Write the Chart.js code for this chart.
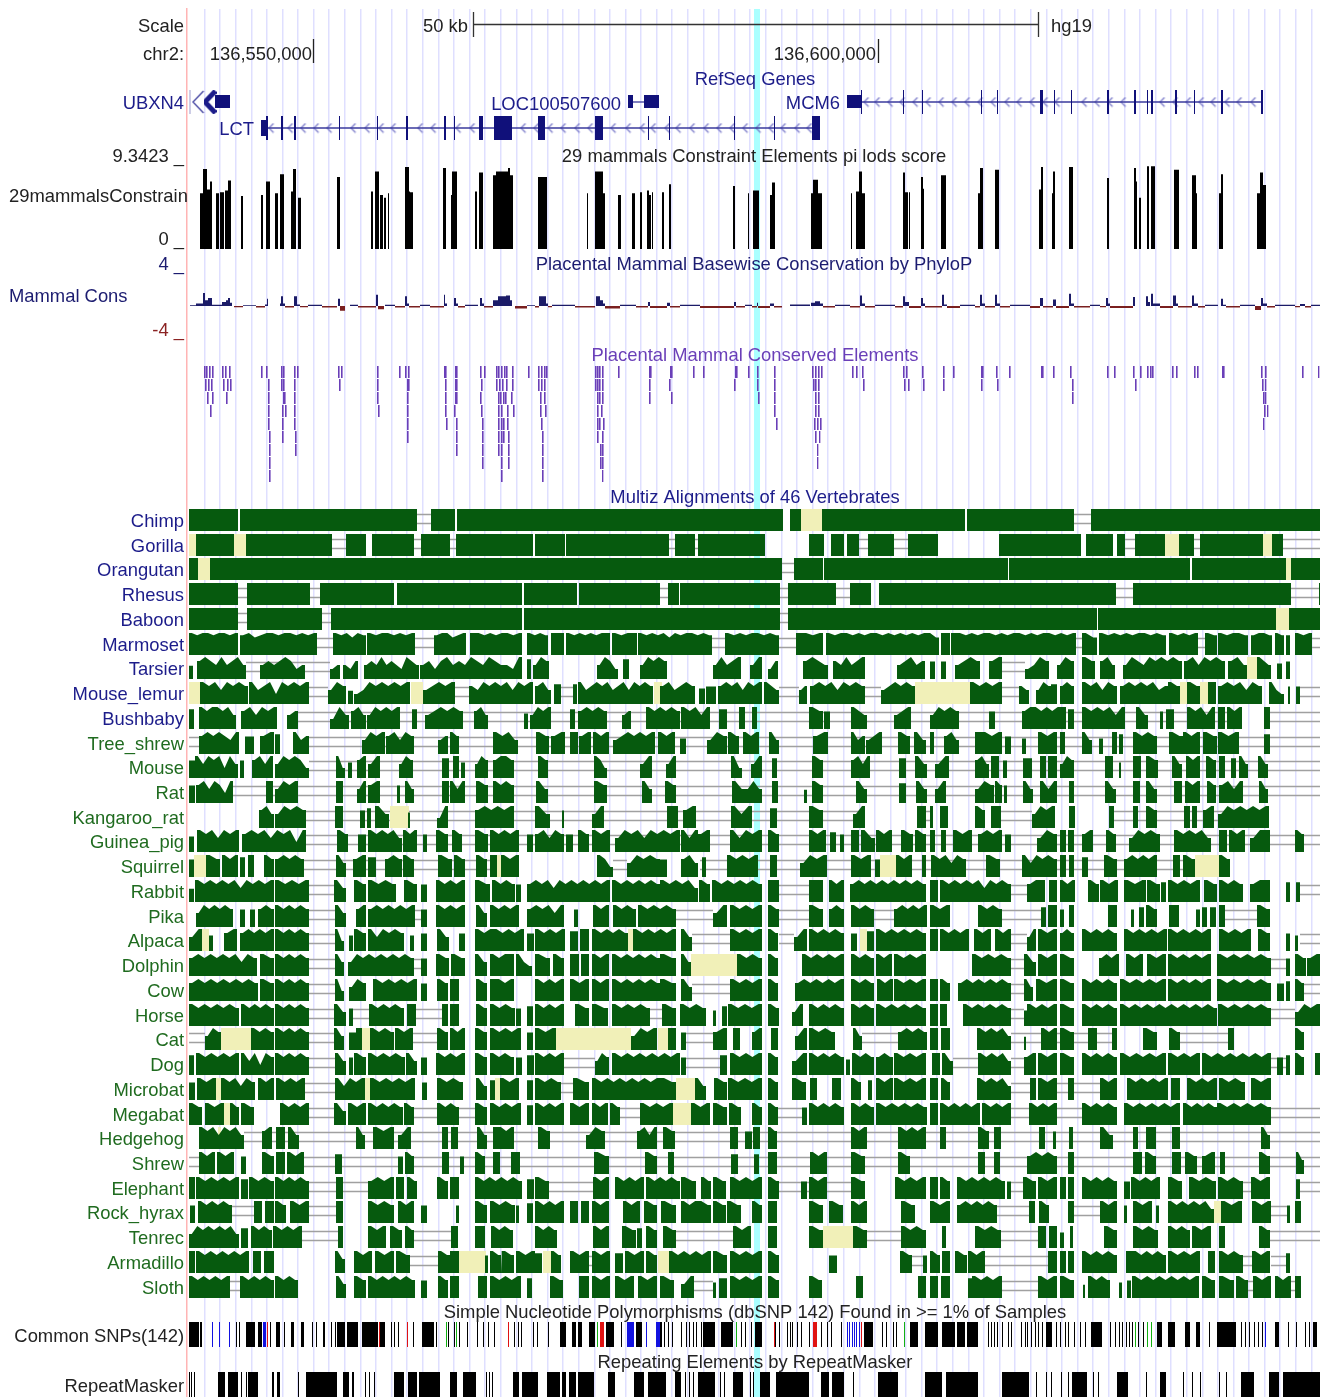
<!DOCTYPE html>
<html>
<head>
<meta charset="utf-8">
<style>html,body{margin:0;padding:0;background:#fff}canvas{display:block}</style>
<script src="https://cdn.jsdelivr.net/npm/chart.js@4/dist/chart.umd.js"></script>
</head>
<body>
<canvas id="browser" width="1330" height="1397"></canvas>
<script>
// x axis is in window bins (one bin is about 88 bp)
const constraintScores=[[200,203,6.2],[203,207,8.9],[207,210,6.6],[210,212,7.5],[216,219,6.2],[220,224,6.3],[225,228,6.5],[228,231,7.6],[241,243,5.9],[261,263,6],[266,270,7.5],[275,278,6.2],[280,284,8.3],[291,293,6.4],[293,296,8.9],[298,301,5.7],[337,340,8],[371,373,6.4],[375,379,8.6],[380,383,6],[384,386,5.7],[388,389,6.2],[405,409,9.1],[409,410,6.4],[410,413,6.3],[443,446,9],[451,452,6],[452,457,8.6],[475,477,6.4],[479,483,8.5],[493,496,8.2],[496,508,8.6],[508,510,9],[510,513,8.2],[538,547,8],[587,588,6.2],[595,603,8.6],[603,605,6.2],[618,621,6],[632,635,6.2],[640,642,6.3],[647,649,6.5],[649,651,6],[652,653,6.3],[662,664,6.3],[669,671,7.2],[733,735,7],[748,749,6.2],[753,759,6.5],[770,772,6],[772,775,7.4],[811,813,6.2],[813,818,7.7],[818,822,6.2],[851,852,6.2],[856,859,6.4],[859,862,8.6],[862,865,6.2],[903,905,8.5],[905,908,6.3],[909,910,6.3],[921,923,8],[923,924,6.7],[941,946,8.2],[978,980,6.2],[980,983,9],[995,999,8.8],[1039,1041,6.6],[1041,1043,9.1],[1052,1053,6.2],[1053,1055,8.6],[1069,1073,9.1],[1107,1109,7.9],[1134,1136,9],[1136,1137,7.5],[1139,1141,5.7],[1147,1149,9.2],[1151,1155,9.2],[1174,1179,8.8],[1192,1196,8.2],[1196,1197,6.2],[1219,1221,6.2],[1221,1223,8.3],[1257,1260,6.2],[1260,1263,8.5],[1263,1266,7.1]];

const phyloUp=[[190,196,.1],[196,203,.3],[203,205,1.6],[205,208,.7],[208,212,1],[212,222,.15],[222,226,.5],[226,228,.7],[228,230,1],[230,232,.4],[243,256,.1],[265,267,.2],[267,268,.9],[280,281,.3],[281,283,1.2],[283,285,.3],[294,297,1.2],[297,300,.2],[308,322,.15],[338,340,.9],[350,358,.15],[376,378,1.4],[385,395,.15],[405,407,1.2],[407,409,.3],[420,430,.15],[444,445,1.4],[445,447,.3],[454,456,1],[456,458,.3],[465,478,.15],[480,482,1],[482,484,.3],[493,498,.7],[498,506,1.2],[506,510,1.3],[510,512,.7],[527,535,.1],[539,546,1.2],[546,548,.3],[552,575,.15],[596,600,1.2],[600,603,.7],[603,605,.3],[620,636,.15],[648,650,.5],[667,670,.4],[680,700,.15],[734,736,.5],[745,752,.15],[757,758,.4],[770,774,.3],[790,810,.2],[811,815,.4],[815,820,.6],[820,823,.3],[835,850,.15],[860,862,1.3],[862,865,.3],[875,895,.15],[903,905,1.2],[905,909,.5],[921,923,1],[923,925,.3],[942,944,1.4],[944,947,.2],[960,975,.15],[980,982,1.4],[982,985,.3],[995,997,1.4],[997,1000,.3],[1010,1030,.15],[1040,1043,1],[1053,1056,.8],[1069,1071,1.5],[1071,1074,.3],[1090,1100,.15],[1106,1108,1],[1108,1110,.3],[1133,1135,1.1],[1146,1148,1.2],[1148,1150,.5],[1151,1153,1.5],[1153,1160,.3],[1173,1176,1.3],[1176,1178,.3],[1192,1194,1.3],[1194,1198,.3],[1205,1218,.15],[1221,1223,.9],[1223,1226,.15],[1240,1255,.15],[1261,1263,1],[1263,1267,.3],[1275,1295,.15],[1300,1305,.25],[1311,1320,.15]];
const phyloDown=[[234,243,.15],[256,265,.2],[285,294,.2],[300,308,.15],[322,337,.2],[340,345,.6],[358,376,.2],[378,384,.4],[395,405,.2],[409,420,.2],[430,444,.2],[458,465,.2],[484,493,.2],[515,527,.3],[535,539,.2],[548,552,.15],[575,595,.2],[605,620,.3],[636,648,.2],[650,667,.25],[670,680,.2],[700,734,.25],[736,745,.2],[752,757,.2],[758,770,.25],[774,782,.2],[823,835,.2],[850,860,.2],[865,875,.2],[895,903,.2],[909,921,.25],[925,942,.2],[947,960,.25],[975,980,.2],[985,995,.2],[1000,1010,.2],[1030,1040,.25],[1043,1053,.2],[1056,1069,.25],[1074,1090,.2],[1100,1106,.15],[1110,1133,.25],[1160,1173,.25],[1178,1192,.2],[1198,1205,.2],[1226,1240,.2],[1255,1261,.5],[1267,1275,.2],[1295,1300,.15],[1305,1311,.2]];

const conservedRows=[
[204,206,209,212,222,225,229,261,266,281,283,294,297,338,341,377,399,405,408,444,445,455,456,480,484,496,498,501,504,506,512,528,538,541,544,546,595,597,599,602,618,649,650,670,671,693,703,735,736,748,757,774,812,815,818,821,852,856,862,903,906,922,943,953,981,982,996,1009,1041,1042,1053,1070,1107,1114,1133,1140,1147,1150,1152,1172,1176,1194,1197,1222,1223,1261,1265,1302,1318],
[205,208,211,223,227,230,268,281,283,294,339,377,407,408,445,455,456,481,496,499,502,506,512,538,541,544,595,597,599,602,649,669,734,757,774,813,815,818,863,904,908,923,943,981,997,1072,1135,1262,1265],
[207,212,226,268,283,284,294,377,407,445,455,456,480,498,500,503,505,511,540,544,597,599,602,649,671,758,774,815,818,1072,1263,1265],
[210,268,282,285,294,378,407,445,454,481,498,501,507,513,540,545,597,601,774,815,818,1264,1267],
[268,282,294,407,446,456,482,498,501,503,507,541,597,599,603,776,814,817,820,1263],
[269,282,295,407,456,482,498,501,503,508,542,597,602,815,819],
[269,295,456,482,498,501,508,542,600,602,817],
[269,482,501,508,542,600,602,817],
[269,501,542,602]];

const speciesNames=['Chimp','Gorilla','Orangutan','Rhesus','Baboon','Marmoset','Tarsier','Mouse_lemur','Bushbaby','Tree_shrew','Mouse','Rat','Kangaroo_rat','Guinea_pig','Squirrel','Rabbit','Pika','Alpaca','Dolphin','Cow','Horse','Cat','Dog','Microbat','Megabat','Hedgehog','Shrew','Elephant','Rock_hyrax','Tenrec','Armadillo','Sloth'];

// [start, end, conservation in tenths per step, a = 10]
const chimp=[[189,238],[240,417],[431,455],[457,783],[790,801],[822,965],[967,1074],[1091,1320]];
const gorilla=[[196,234],[246,332],[346,366],[372,414],[421,450],[456,533],[535,565],[566,660],[660,669],[675,695],[698,765],[809,824],[831,844],[847,859],[868,894],[908,938],[999,1081],[1086,1113],[1117,1125],[1135,1165],[1179,1194],[1200,1263],[1272,1283]];
const orangutan=[[189,198],[210,782],[794,823],[824,1008],[1009,1190],[1192,1286],[1291,1320]];
const rhesus=[[189,238],[247,310],[320,394],[397,522],[524,577],[579,637],[637,660],[668,679],[680,780],[788,836],[850,871],[879,1098],[1098,1116],[1133,1291],[1319,1320]];
const baboon=[[189,238],[247,322],[331,522],[524,637],[637,780],[788,1097],[1098,1276],[1289,1320]];
const marmoset=[[189,238,'a9aa9aa9a'],[240,317,'9a89aa9aa9a9a'],[333,366,'a9a8a9'],[367,415,'a9aa9a9a'],[434,466,'9aa89a'],[470,522,'aa9a9aa9a'],[527,548,'a9a9'],[551,564,'aa'],[566,610,'a9a9a9aa'],[612,637,'a9aa'],[638,712,'a9a9a8a9aa9a9'],[725,779,'a9a9aa9a9'],[796,823,'aa9a'],[826,939,'a9aa9a9aa9a9a9a9aa8'],[941,950,'aa'],[951,1076,'aa9a9aa9a9aa9a9aa9a9a'],[1082,1097,'a8'],[1099,1166,'a9a9a9aa9a9'],[1169,1198,'a9a9a'],[1205,1217,'a9'],[1218,1248,'a9aa9'],[1251,1272,'9aa9'],[1275,1284,'a9'],[1286,1290,'9'],[1295,1312,'a9a']];
const tarsier=[[189,193,'6'],[197,246,'9a98a89a8'],[260,305,'8989a978'],[330,340,'78'],[343,358,'879'],[364,419,'898a8987a98'],[420,522,'8979a898a98a9887a'],[527,531,'9'],[533,549,'8a9'],[597,618,'8a97'],[623,629,'9'],[640,667,'8a9a9'],[713,741,'8a89a'],[750,762,'8a'],[768,778,'79'],[803,828,'9a98'],[833,865,'98a89a'],[897,925,'89a89'],[930,935,'8'],[941,946,'8'],[955,980,'89a9'],[989,1002,'9a'],[1025,1049,'78a9'],[1057,1074,'8a9'],[1082,1095,'a9'],[1100,1115,'9a8'],[1123,1182,'8a98a9a9a9'],[1184,1225,'9a8a9a9'],[1228,1247,'9a8'],[1257,1271,'a98'],[1277,1282,'7'],[1286,1290,'8']];
const mouseLemur=[[200,248,'a9a8a9a9'],[249,309,'a89a7a9a9a'],[328,346,'8a9'],[348,353,'6'],[354,410,'78a9a9a9a'],[423,455,'89a9a'],[469,533,'98a9a9a8a9a'],[535,551,'9a8'],[554,561,'9'],[573,577,'9'],[578,653,'a89a9a89a8a9a9'],[660,695,'9a89a9'],[699,705,'7'],[706,716,'8'],[718,762,'9a9a8a9a'],[764,779,'a98'],[799,807,'89'],[810,865,'9a9a8a9a9'],[881,915,'89a9a9'],[970,1002,'a9a9a'],[1019,1029,'98'],[1036,1051,'8a9'],[1051,1057,'9'],[1060,1074,'9a9'],[1082,1117,'a9a8a9'],[1120,1168,'9a9a9a89'],[1168,1180,'a9'],[1187,1200,'a9'],[1208,1216,'a'],[1218,1262,'9a9a8a9'],[1269,1284,'a87'],[1288,1290,'8'],[1296,1300,'8']];
const bushbaby=[[189,194,'9'],[199,236,'a9aa9a8'],[241,277,'9a8a9a'],[287,298,'89'],[330,349,'7a8'],[351,366,'9a8'],[367,400,'8a9a9a'],[412,417,'9'],[425,463,'89a9a9'],[474,488,'9a8'],[524,528,'7'],[530,551,'8a9a'],[570,575,'9'],[578,607,'9a9a9'],[622,631,'89'],[646,680,'a9a9a9'],[681,710,'a9a8a'],[719,727,'9'],[739,745,'a'],[752,757,'a'],[809,823,'a9'],[824,830,'8'],[851,867,'a98'],[894,911,'89a'],[930,959,'8a9a9'],[989,995,'8'],[1022,1066,'9aa9a9aa'],[1068,1074,'9'],[1082,1125,'a9a9a8a'],[1136,1148,'a8'],[1160,1163,'8'],[1166,1174,'9'],[1187,1215,'a9a8a'],[1218,1225,'a'],[1227,1242,'a9a'],[1264,1270,'a']];
const treeShrew=[[199,239,'9a9a98a'],[245,254,'8'],[260,274,'9a'],[275,280,'9'],[293,309,'a89'],[362,385,'8a9a'],[386,414,'9a8a9'],[438,448,'89'],[450,459,'a9'],[493,518,'a9a8'],[536,549,'a9'],[551,565,'9a'],[570,578,'a'],[579,591,'9a'],[593,609,'a9a'],[613,655,'89a9a9a'],[658,675,'a9a'],[680,686,'7'],[707,727,'8a9'],[728,739,'a9'],[743,759,'a9a'],[769,779,'a8'],[813,828,'9a'],[851,865,'a89'],[866,882,'89a'],[898,910,'a9'],[914,926,'a8'],[930,934,'a'],[944,959,'9a8'],[975,1002,'aa9a'],[1005,1011,'8'],[1022,1026,'7'],[1038,1057,'a9a'],[1060,1065,'a'],[1082,1092,'a8'],[1099,1103,'7'],[1112,1117,'a'],[1119,1123,'9'],[1133,1157,'a9a9'],[1169,1183,'a9'],[1183,1200,'a9a'],[1203,1217,'a9'],[1218,1239,'a9a'],[1264,1270,'9']];
const mouse=[[189,195,'8'],[195,238,'a8a9a7a8'],[240,244,'8'],[252,273,'9a8a'],[275,309,'8a9a97'],[336,345,'a7'],[348,352,'7'],[357,366,'9a'],[368,380,'8a'],[399,413,'8a9'],[442,449,'9'],[453,459,'a'],[461,465,'7'],[475,488,'8a9'],[493,514,'9aa9'],[538,548,'a9'],[594,607,'a97'],[640,652,'8a'],[666,676,'8a'],[731,742,'a7'],[751,762,'8a'],[772,777,'9'],[812,823,'a9'],[851,870,'9a8a'],[899,906,'9'],[915,927,'a8'],[935,949,'8a'],[975,989,'9a8'],[991,999,'a'],[1003,1007,'8'],[1023,1032,'9'],[1040,1046,'a'],[1048,1057,'a'],[1060,1074,'8a9'],[1105,1113,'a'],[1119,1121,'7'],[1133,1141,'a'],[1146,1158,'a9'],[1172,1182,'a8'],[1186,1200,'a9a'],[1206,1216,'a9'],[1219,1225,'a'],[1231,1236,'9'],[1239,1248,'a8'],[1258,1268,'a8']];
const rat=[[189,195,'8'],[196,233,'9a8a97a'],[266,273,'a'],[275,298,'8a9a'],[336,343,'a'],[357,366,'8a'],[368,380,'9a'],[397,400,'8'],[405,414,'a8'],[442,449,'a'],[450,465,'a8a'],[476,488,'a9'],[493,514,'a9a9'],[536,548,'a8'],[594,607,'a9'],[642,652,'a8'],[665,676,'a9'],[732,745,'a8'],[745,762,'8a8'],[772,778,'a'],[804,807,'6'],[812,823,'a9'],[856,867,'a8'],[899,906,'9'],[916,927,'a8'],[935,946,'8a'],[975,994,'8a9'],[995,1002,'a9'],[1004,1007,'8'],[1023,1033,'a8'],[1040,1057,'a8a'],[1069,1074,'a'],[1105,1116,'a8'],[1133,1140,'a'],[1146,1157,'a8'],[1174,1182,'a'],[1185,1200,'a9a'],[1207,1216,'a9'],[1219,1243,'9a8a'],[1259,1268,'a8']];
const kangarooRat=[[259,274,'9a8'],[275,306,'8a9a9'],[335,343,'a'],[360,365,'8'],[367,371,'9'],[375,389,'a8'],[408,410,'7'],[437,448,'7a'],[475,514,'9a9a9a'],[535,550,'a8'],[562,564,'8'],[592,604,'8a'],[667,678,'a'],[683,696,'9a'],[731,752,'a8a'],[770,777,'9'],[809,823,'a9'],[853,865,'8a'],[917,926,'a'],[930,933,'a'],[940,948,'a'],[975,985,'a9'],[991,1001,'a'],[1032,1055,'8a9a'],[1069,1075,'a'],[1109,1114,'a'],[1133,1138,'a'],[1146,1157,'a9'],[1184,1190,'a'],[1192,1197,'a'],[1203,1214,'9a'],[1218,1269,'8a9a9a9a']];
const guineaPig=[[189,194,'7'],[197,239,'a9a8a9a'],[242,306,'9a9a8a9a7a'],[337,348,'a9'],[358,366,'8'],[368,402,'a9a9a8'],[403,417,'a9a'],[423,427,'8'],[436,448,'a9'],[452,462,'a9'],[475,488,'a9'],[490,519,'a9a9a'],[527,533,'8'],[535,564,'9a8a9'],[566,573,'8'],[578,589,'a9'],[592,610,'a9a'],[615,680,'8a9a8a9a9a'],[681,698,'a8a'],[698,710,'9a'],[730,762,'a8a9a'],[768,779,'a9'],[809,826,'a9a'],[830,836,'9'],[840,844,'8'],[851,859,'a'],[861,875,'a8'],[876,892,'a9a'],[901,913,'a9'],[915,926,'a9'],[930,935,'a'],[941,946,'a'],[953,972,'a9a'],[978,1002,'9a9a'],[1005,1011,'8'],[1037,1057,'8a9'],[1060,1066,'a'],[1068,1074,'a'],[1082,1093,'9a'],[1106,1116,'a9'],[1129,1160,'8a9a9'],[1174,1211,'a9a9a8'],[1219,1227,'a'],[1229,1245,'a9a'],[1250,1270,'8aa'],[1295,1304,'a9']];
const squirrel=[[189,194,'8'],[206,220,'a9'],[222,238,'a9a'],[240,245,'9'],[248,254,'a'],[264,274,'a9'],[275,304,'9a9a9'],[336,346,'a8'],[353,366,'9a'],[368,376,'9'],[385,402,'9a9'],[403,414,'a9'],[438,452,'a9'],[454,465,'a9'],[476,487,'a9'],[490,497,'a'],[501,519,'a9a'],[597,613,'a97'],[627,660,'8a9a9'],[660,667,'8'],[681,698,'9a8'],[702,706,'9'],[727,758,'a9a9a'],[770,777,'a'],[800,827,'8a9a'],[851,871,'a9a'],[875,880,'8'],[896,912,'a9a'],[922,926,'a'],[931,966,'a9a8a9'],[986,1000,'a9'],[1022,1057,'a8a9a9'],[1060,1066,'a'],[1069,1074,'a'],[1082,1088,'9'],[1104,1117,'a9'],[1124,1157,'9a9a9a'],[1173,1180,'a'],[1183,1195,'a9'],[1219,1230,'a9']];
const rabbit=[[189,194,'6'],[195,274,'a9a9a9a8a9a9a'],[275,309,'a9a9a'],[334,346,'a8'],[354,366,'a9'],[368,396,'a9a9'],[404,417,'a9'],[421,427,'8'],[436,465,'a9a9a'],[475,490,'a9'],[492,515,'a9a9'],[516,521,'8'],[527,610,'9a9a8a9a9a9a9a'],[612,660,'a9a9a9a9'],[660,698,'a9a9a8'],[699,710,'a9'],[712,762,'a9a9a9a9'],[768,779,'aa'],[809,823,'aa'],[829,844,'a9a'],[850,926,'9a9a9a9a9a9a9'],[930,938,'a'],[940,1011,'a9a9a9a8a9a9'],[1027,1045,'9aa'],[1049,1057,'a'],[1060,1075,'a9a'],[1088,1099,'a9'],[1100,1118,'a9a'],[1124,1146,'a9a'],[1147,1160,'a9'],[1161,1166,'9'],[1168,1200,'a9a9a'],[1204,1217,'a9'],[1219,1243,'a9a9'],[1250,1270,'9aa'],[1286,1290,'9'],[1296,1300,'9']];
const pika=[[196,233,'8a9a9a9'],[240,245,'8'],[250,255,'8'],[258,274,'9a9'],[275,309,'a9a9a9'],[335,346,'a8'],[356,366,'9a'],[368,415,'9a9a9a9a'],[421,427,'8'],[436,465,'a9a9a'],[476,487,'a8'],[490,519,'a9a9a'],[527,564,'9a9a8a'],[574,578,'8'],[593,609,'a9a'],[613,636,'a9a9'],[638,676,'a9a9a9'],[713,727,'8a'],[730,762,'a9a9a'],[768,779,'a9'],[809,823,'a9'],[829,844,'9a9'],[851,874,'a9a9'],[894,927,'9a9a9a'],[930,950,'a9a'],[978,1002,'a9a9'],[1041,1046,'9'],[1048,1057,'a'],[1060,1064,'8'],[1069,1074,'a'],[1108,1117,'a'],[1131,1134,'8'],[1139,1144,'9'],[1146,1157,'a9'],[1169,1179,'a'],[1196,1200,'8'],[1202,1207,'9'],[1210,1216,'9'],[1219,1225,'a'],[1257,1270,'a9']];
const alpaca=[[189,202,'8a'],[209,213,'7'],[224,237,'9a'],[240,274,'9a9a9a'],[275,309,'a9a9a9'],[335,344,'a7'],[349,353,'7'],[354,366,'a9'],[368,404,'a8a9a9'],[410,414,'7'],[421,427,'8'],[437,449,'a8'],[459,465,'8'],[475,524,'a9aa9a9a'],[527,534,'8'],[535,565,'a9a9a'],[570,578,'9'],[580,589,'a'],[592,628,'a9a9a9'],[633,676,'a9a9a9a'],[681,692,'a8'],[730,762,'a9a9a'],[768,778,'a9'],[794,807,'8a'],[809,844,'a9a9a9'],[851,857,'8'],[867,874,'9'],[876,926,'a9a9a9a9'],[930,938,'a'],[940,969,'a9a9a'],[974,991,'a9a'],[995,1011,'a9a'],[1027,1036,'8a'],[1038,1057,'a9a'],[1060,1074,'9a9'],[1082,1117,'a9a9a9'],[1124,1167,'a9a9a9a'],[1168,1211,'a9a9a9a'],[1219,1251,'a9a9a'],[1258,1270,'a9'],[1286,1290,'8'],[1295,1298,'7']];
const dolphin=[[189,257,'9a9a9a9a8a9'],[260,274,'a9'],[275,309,'a9a9a9'],[335,344,'a8'],[348,414,'8a9a9a9a9a9'],[421,427,'8'],[436,449,'a9'],[451,465,'a9'],[475,487,'a8'],[490,514,'a9aa'],[516,532,'a87'],[535,550,'a9'],[553,564,'a9'],[570,579,'a'],[581,589,'a'],[592,609,'a9a'],[612,660,'a9a9a9a9'],[660,676,'a9'],[681,691,'a8'],[737,762,'a9a9'],[768,778,'a9'],[802,844,'a9a9a9a'],[851,874,'a9a9'],[876,892,'a9a'],[894,926,'a9a9a'],[972,1011,'a9a9a9'],[1024,1036,'a8'],[1038,1057,'a9a'],[1060,1074,'a9'],[1099,1119,'9a9a'],[1126,1143,'a9a'],[1147,1166,'a9a'],[1168,1211,'a9a9a9a'],[1217,1271,'a9a9a9a9'],[1286,1290,'8'],[1295,1306,'a9'],[1307,1320,'9a']];
const cow=[[189,258,'9a9a9a9a9a9'],[260,274,'a9'],[275,309,'a9a9a9'],[335,344,'a7'],[349,366,'8a9'],[373,417,'a9a9a9a'],[421,427,'8'],[437,448,'a9'],[450,459,'a'],[476,487,'a9'],[490,514,'aa9a'],[535,564,'a9a9a'],[570,589,'a9a'],[592,609,'a9a'],[612,660,'a9a9a9a9'],[660,676,'a9'],[681,692,'a8'],[730,762,'a9a9a'],[768,778,'a9'],[795,844,'9a9a9a9a'],[851,874,'a9a9'],[877,893,'a9a'],[894,926,'a9a9a'],[930,938,'a'],[940,950,'a9'],[958,1011,'9a9a9a9a9'],[1024,1033,'a8'],[1036,1057,'a9a'],[1060,1074,'a9'],[1082,1117,'a9a9a9'],[1120,1166,'a9a9a9a'],[1168,1211,'a9a9a9a'],[1217,1271,'a9a9a9a9'],[1277,1284,'8'],[1286,1290,'9'],[1295,1304,'a9']];
const horse=[[189,239,'a9a9a9a9'],[241,274,'a9a9a9'],[275,309,'a9a9a9'],[334,346,'a8'],[349,353,'8'],[369,404,'a9a9a9'],[407,416,'a'],[442,448,'a'],[450,459,'a'],[476,487,'a9'],[490,515,'a9a9'],[516,521,'8'],[527,533,'9'],[535,564,'a9a9a'],[575,589,'a9'],[592,608,'a9'],[612,650,'a9a9a9'],[662,676,'a9'],[680,706,'a9a9'],[713,716,'7'],[722,727,'9'],[728,762,'a9a9a'],[768,779,'a9'],[792,803,'8a'],[809,844,'a9a9a9'],[851,874,'a9a9'],[876,926,'a9a9a9a9'],[930,938,'a'],[940,947,'a'],[963,1011,'a9a9a9a9'],[1024,1027,'7'],[1027,1057,'a9a9a'],[1060,1074,'a9'],[1082,1117,'a9a9a9'],[1120,1217,'a9a9a9a9a9a9a9a9'],[1218,1271,'a9a9a9a9'],[1295,1320,'8a9a']];
const cat=[[205,221,'8a9'],[251,274,'a9a9'],[275,309,'a9a9a9'],[334,344,'a8'],[349,356,'8'],[356,362,'a'],[370,394,'a9a9'],[395,413,'a9a'],[437,448,'a9'],[450,465,'a9a'],[475,487,'a9'],[490,521,'a9a9a'],[527,533,'8'],[535,556,'a9a'],[631,657,'8a9a'],[668,676,'a'],[681,686,'8'],[713,727,'9a'],[733,740,'a'],[752,762,'9a'],[771,778,'a'],[795,807,'8a'],[809,835,'a9a9'],[853,862,'a8'],[898,927,'9a9a9'],[930,938,'a'],[941,950,'a'],[977,1011,'a9a9a8'],[1024,1026,'6'],[1041,1057,'a9a'],[1060,1074,'a9'],[1088,1097,'a'],[1112,1117,'a'],[1143,1157,'a9'],[1169,1180,'a9'],[1228,1234,'a'],[1295,1304,'a9']];
const dog=[[189,194,'9'],[196,239,'a9a9a9a'],[241,274,'a8a7a9'],[275,309,'a9a9a9'],[335,346,'a8'],[349,353,'8'],[354,366,'a9'],[368,405,'a9a9a9'],[406,417,'a8'],[421,427,'8'],[436,465,'a9a9a'],[475,487,'a9'],[490,514,'a9a9'],[516,522,'8'],[527,534,'9'],[535,564,'a9a9a'],[595,609,'8a9'],[612,680,'a9a9a9a9a9a'],[681,686,'8'],[720,727,'9'],[730,762,'a9a9a'],[768,778,'a9'],[792,807,'8a'],[809,844,'a9a9a9'],[846,850,'7'],[852,874,'a9a9'],[876,893,'9a9'],[894,926,'a9a9a'],[932,940,'a'],[942,953,'a8'],[978,1011,'a9a9a8'],[1024,1036,'9a'],[1038,1057,'a9a'],[1060,1074,'a9'],[1082,1117,'a9a9a9'],[1120,1166,'a9a9a9a'],[1168,1200,'a9a9a'],[1202,1271,'a9a9a9a9a9a'],[1277,1283,'8'],[1286,1290,'9'],[1295,1304,'a9'],[1315,1320,'a']];
const microbat=[[189,195,'8'],[197,216,'a9a'],[221,255,'a9a8a9'],[258,274,'a9a'],[276,305,'a9a9a'],[335,365,'a8a9a'],[370,415,'a9a9a9a'],[422,427,'8'],[437,463,'a9a9'],[476,487,'a8'],[490,495,'9'],[500,519,'a9a'],[527,533,'9'],[535,561,'a9a9'],[573,589,'a9'],[592,660,'a9a9a9a9a9a'],[660,676,'a9'],[695,706,'a8'],[714,727,'a9'],[728,762,'a9a9a'],[768,778,'a9'],[792,806,'a9'],[810,817,'a'],[832,841,'a'],[851,861,'a9'],[868,872,'9'],[876,893,'a9a'],[894,926,'a9a9a'],[930,938,'a'],[941,950,'a9'],[977,1011,'a9a9a8'],[1030,1036,'a'],[1038,1057,'a9a'],[1068,1074,'a'],[1100,1117,'a9a'],[1127,1168,'a9a9a9a'],[1171,1180,'a'],[1187,1217,'a9a9a'],[1219,1245,'a9a9'],[1251,1271,'a9a']];
const megabat=[[189,202,'a9'],[205,224,'a9a'],[230,239,'a9'],[241,254,'a9'],[280,309,'a9a9a'],[334,346,'a8'],[348,366,'a9a'],[368,403,'a9a9a9'],[404,414,'a9'],[437,459,'a9a9'],[475,487,'a9'],[490,521,'a9a9a'],[527,533,'9'],[535,564,'a9a9a'],[570,589,'a9a'],[592,608,'a9a'],[610,620,'a9'],[640,673,'a9a9a'],[691,710,'a9a'],[713,727,'a9'],[729,741,'a9'],[752,762,'a9'],[768,778,'a9'],[802,807,'8'],[809,844,'a9a9a9'],[851,874,'a9a9'],[876,927,'a9a9a9a9'],[930,938,'a'],[940,980,'a9a9a9a'],[982,1011,'a9a9a'],[1029,1057,'a9a9a'],[1082,1117,'a9a9a9'],[1124,1180,'a9a9a9a9a'],[1183,1217,'a9a9a9'],[1217,1271,'a9a9a9a9']];
const hedgehog=[[199,244,'a9a8a9a8'],[262,272,'9a'],[276,285,'a'],[288,299,'a8'],[356,365,'a8'],[373,394,'a9a'],[398,411,'8a'],[442,448,'a'],[451,458,'a'],[477,487,'a8'],[493,514,'aa9a'],[538,550,'a9'],[586,605,'8a9'],[637,657,'9a8a'],[663,675,'a9'],[730,738,'a'],[745,752,'8'],[753,760,'a'],[768,777,'a9'],[851,867,'a9a'],[898,926,'a9a9a'],[940,946,'a'],[978,989,'a9'],[994,1001,'a'],[1039,1045,'a'],[1053,1056,'8'],[1069,1073,'a'],[1100,1113,'a8'],[1133,1138,'a'],[1146,1156,'a'],[1172,1180,'a'],[1261,1270,'a8']];
const shrew=[[199,215,'a9a'],[217,234,'a9a'],[241,246,'8'],[262,274,'a9'],[276,285,'a'],[287,304,'a9a'],[335,342,'9'],[398,403,'8'],[405,414,'a9'],[442,449,'a'],[460,464,'8'],[475,485,'a9'],[493,500,'a'],[511,520,'a'],[594,609,'a9'],[645,657,'a9'],[668,674,'a'],[731,738,'9'],[754,759,'9'],[768,777,'a'],[810,827,'a9a'],[851,865,'a9'],[898,910,'a9'],[978,985,'a'],[994,1000,'a'],[1027,1057,'9a9a9'],[1068,1074,'a'],[1133,1142,'a'],[1145,1156,'a9'],[1172,1181,'a'],[1185,1197,'a9'],[1202,1215,'9a'],[1220,1225,'a'],[1259,1270,'a9'],[1296,1304,'a8']];
const elephant=[[189,195,'a'],[196,239,'a9a9a9a'],[241,248,'9'],[249,274,'a9a9'],[275,309,'a9a9a9'],[336,343,'a'],[368,394,'9a9a'],[396,404,'a'],[407,417,'a9'],[437,448,'a9'],[450,459,'a'],[475,522,'a9a9a9a9'],[527,534,'9'],[535,549,'a9'],[593,609,'a9a'],[615,644,'a9a9a'],[646,680,'a9a9a9'],[681,696,'a9'],[701,711,'a9'],[713,726,'a9'],[730,762,'a9a9a'],[768,779,'a9'],[801,807,'8'],[809,827,'a9a'],[851,865,'a9'],[895,926,'a9a9a'],[930,938,'a'],[940,950,'a9'],[957,1005,'a9a9a9a9'],[1007,1011,'8'],[1023,1036,'a9'],[1038,1057,'a9a'],[1060,1066,'a'],[1068,1074,'a'],[1082,1117,'a9a9a9'],[1124,1130,'8'],[1131,1160,'a9a9a'],[1168,1182,'a9'],[1189,1216,'a9a9'],[1218,1243,'a9a9'],[1251,1270,'a9a'],[1296,1300,'9']];
const rockHyrax=[[190,195,'8'],[198,232,'a9a9a9'],[254,262,'a'],[265,274,'a'],[275,286,'a9'],[290,309,'a9a'],[336,343,'a'],[368,394,'a9a9'],[398,414,'a9a'],[421,427,'8'],[456,459,'8'],[475,487,'a9'],[490,515,'a9a9'],[516,519,'8'],[527,533,'9'],[535,564,'a9a9a'],[570,578,'a'],[581,589,'a'],[592,609,'a9a'],[623,640,'a9a'],[644,657,'a9'],[661,676,'a9'],[681,698,'a9a'],[698,711,'a9'],[713,726,'a9'],[727,741,'a9'],[752,762,'a9'],[768,777,'a'],[809,823,'a9'],[829,843,'a9'],[851,867,'a9a'],[901,915,'a9'],[930,950,'a9a'],[957,997,'9a9a9a9'],[1029,1035,'a'],[1039,1049,'a9'],[1068,1074,'a'],[1100,1117,'a9a'],[1124,1127,'8'],[1133,1152,'a9a'],[1156,1159,'8'],[1168,1214,'a9a9a9a8'],[1221,1242,'a9a'],[1252,1271,'a9a'],[1287,1290,'8'],[1295,1301,'a']];
const tenrec=[[189,239,'8a9a9a9a8'],[241,248,'9'],[251,272,'a9a9'],[273,302,'a9a9a'],[338,343,'a'],[368,386,'a9a'],[390,402,'a9'],[405,414,'a9'],[451,458,'a'],[475,485,'a'],[491,513,'a9a9'],[535,557,'a9a9'],[593,609,'a9a'],[622,636,'a9'],[637,642,'9'],[646,657,'a9'],[663,676,'a9'],[733,751,'a9a'],[768,777,'a'],[809,823,'a9'],[853,867,'a9'],[901,926,'a9a9'],[942,946,'a'],[975,1001,'a9a9'],[1038,1046,'a'],[1049,1057,'a'],[1060,1064,'7'],[1070,1073,'a'],[1104,1117,'a9'],[1133,1158,'a9a9'],[1168,1190,'a9a9'],[1192,1211,'a9a'],[1219,1225,'a'],[1259,1270,'a9']];
const armadillo=[[189,195,'a'],[196,249,'a9a9a9a9a'],[253,261,'a'],[264,274,'a'],[335,345,'a8'],[354,372,'a9a'],[375,394,'a9a'],[396,410,'a9'],[438,450,'a9'],[450,459,'a'],[485,488,'8'],[490,501,'a9'],[502,514,'a9'],[516,535,'a9a'],[535,542,'9'],[551,561,'a9'],[570,589,'a9a'],[592,610,'a9a'],[615,623,'9'],[625,644,'a9a'],[646,657,'a9'],[669,711,'a9a9a9a'],[713,727,'a9'],[730,762,'a9a9a'],[768,779,'a9'],[829,837,'8'],[900,912,'a9'],[923,927,'8'],[930,940,'a9'],[942,950,'a'],[955,967,'a9'],[968,985,'a9a'],[1048,1057,'a'],[1060,1066,'a'],[1068,1074,'a'],[1082,1117,'a9a9a9'],[1126,1133,'a'],[1133,1166,'a9a9a9'],[1168,1200,'a9a9a'],[1208,1215,'a'],[1219,1243,'a9a9'],[1252,1270,'a9a'],[1286,1290,'9']];
const sloth=[[189,230,'a9a9a9a'],[240,274,'a9a9a9'],[275,298,'a9a9'],[336,346,'a8'],[354,366,'a9'],[368,415,'a9a9a9a9'],[421,427,'8'],[438,448,'a9'],[450,459,'a'],[478,487,'a'],[490,521,'a9a9a'],[527,532,'9'],[550,563,'a9'],[579,589,'a'],[592,610,'a9a'],[615,634,'a9a'],[638,657,'a9a'],[660,674,'a9'],[681,694,'8a'],[713,716,'7'],[719,727,'9'],[730,762,'a9a9a'],[768,779,'a9'],[809,822,'a9'],[856,863,'a'],[918,926,'a'],[930,938,'a'],[941,950,'a'],[968,972,'9'],[972,1002,'a9a9a'],[1038,1057,'a9a'],[1060,1074,'a9'],[1083,1085,'6'],[1088,1110,'a9a9'],[1119,1122,'7'],[1127,1131,'8'],[1132,1199,'a9a9a9a9a9a'],[1202,1215,'a9'],[1219,1234,'a9'],[1236,1248,'a9'],[1253,1271,'a9a'],[1275,1291,'a9a'],[1295,1301,'a']];
const speciesBlocks=[chimp,gorilla,orangutan,rhesus,baboon,marmoset,tarsier,mouseLemur,bushbaby,treeShrew,mouse,rat,kangarooRat,guineaPig,squirrel,rabbit,pika,alpaca,dolphin,cow,horse,cat,dog,microbat,megabat,hedgehog,shrew,elephant,rockHyrax,tenrec,armadillo,sloth];

const gapSpans=[[[417,431],[1074,1091]],[[332,346],[414,421],[450,456],[660,675],[695,698],[859,868],[894,908],[1125,1135],[1194,1200],[1283,1320]],[[782,794]],[[238,247],[310,320],[660,668],[780,788],[836,850],[1116,1133],[1291,1320]],[[238,247],[322,331],[780,788]],[[317,333],[415,434],[712,725],[779,796],[1076,1082],[1198,1205],[1312,1320]],[[246,330],[1002,1025]],[[309,328],[455,469],[561,573],[779,799],[865,881],[1002,1019],[1300,1320]],[[298,1242],[1270,1320]],[[189,199],[309,1320]],[[309,1320]],[[233,1320]],[[306,865],[917,930],[1001,1032],[1114,1269]],[[306,1320]],[[304,519],[613,627],[700,1230]],[[309,335],[779,809],[1011,1027],[1300,1320]],[[309,335],[415,421],[676,713],[779,809],[874,894],[1002,1041],[1225,1257]],[[309,335],[692,730],[779,794],[1011,1027],[1300,1320]],[[309,335],[414,421],[1011,1024],[1271,1286]],[[309,335],[692,730],[1011,1024],[1300,1320]],[[309,334],[353,369],[416,442],[650,662],[1011,1024],[1271,1295]],[[189,205],[309,334],[413,437],[686,713],[862,898],[1011,1060],[1074,1088],[1097,1112],[1180,1228]],[[309,335],[564,595],[686,720],[953,978],[1011,1024],[1271,1286]],[[305,335],[561,573],[1011,1030],[1057,1068],[1074,1100]],[[309,334],[414,437],[459,475],[620,640],[778,802],[1011,1029],[1057,1082],[1271,1320]],[[244,1320]],[[189,199],[304,398],[414,1320]],[[309,368],[549,593],[779,851],[1011,1023],[1243,1251],[1300,1320]],[[232,254],[309,336],[997,1029],[1074,1100],[1271,1287]],[[302,343],[414,451],[676,733],[867,901],[1001,1038],[1270,1320]],[[410,438],[589,592],[912,923],[985,1048],[1243,1252],[1271,1286]],[[230,240],[694,713],[1002,1038],[1243,1253],[1291,1295]]];
const paleSpans=[[[801,822]],[[189,196],[234,246],[1165,1179],[1263,1272]],[[198,210],[1286,1291]],[],[[1276,1289]],[],[[1247,1257]],[[189,200],[411,423],[654,662],[915,970],[1180,1187],[1200,1208]],[],[],[],[],[[390,409]],[],[[194,206],[497,501],[880,896],[1195,1219]],[],[],[[202,209],[628,633],[860,867]],[[691,737]],[],[],[[221,251],[362,370],[556,631],[658,668]],[],[[216,221],[365,370],[495,500],[676,695]],[[224,230],[673,691]],[[218,221]],[],[],[[1214,1221]],[[823,854]],[[459,486],[543,552],[658,669]],[]];

const lctExons=[[266,268],[281,283],[294,296],[339,340],[377,378],[406,408],[444,446],[454,455],[479,483],[494,512],[538,545],[595,603],[648,649],[669,670],[734,735],[774,775],[812,820]];
const lctUtr=[[261,266]];
const lctChevrons=[271,290,303,316,329,353,367,381,393,420,433,458,472,523,536,550,563,577,590,613,628,642,653,667,678,692,706,719,732,745,758,771,783,797,809];
const mcm6Exons=[[861,862],[903,904],[922,923],[943,944],[981,982],[997,998],[1040,1043],[1054,1055],[1071,1072],[1107,1109],[1134,1136],[1147,1148],[1151,1153],[1175,1177],[1194,1195],[1221,1223],[1261,1263]];
const mcm6Utr=[[847,861]];
const mcm6Chevrons=[866,877,890,902,915,928,941,954,967,980,993,1007,1019,1032,1045,1057,1084,1097,1110,1123,1162,1175,1188,1201,1213,1227,1239,1253];
const locUtr=[[628,633],[644,659]];
const ubxn4Utr=[[215,230]];
const ubxn4Exons=[[189.5,190.5]];
const ubxn4Chevrons=[198,210];

const snpBlack=[[189,199],[200,202],[236,237],[239,240],[246,255],[258,262],[270,271],[276,280],[284,285],[291,294],[301,304],[312,313],[316,317],[323,325],[331,332],[335,336],[337,345],[347,358],[362,378],[380,385],[391,392],[394,395],[398,399],[413,414],[422,434],[436,437],[448,449],[454,455],[459,460],[467,468],[477,478],[483,484],[488,489],[494,495],[514,515],[518,519],[521,522],[533,534],[537,538],[548,549],[560,566],[572,576],[578,582],[589,595],[606,614],[621,622],[636,642],[660,662],[664,665],[668,669],[672,673],[681,682],[686,687],[689,690],[693,694],[696,697],[701,702],[703,715],[721,733],[741,742],[745,746],[751,752],[755,762],[775,776],[779,780],[787,788],[790,791],[792,793],[797,798],[801,802],[805,806],[809,810],[821,822],[827,828],[831,832],[837,838],[841,842],[864,873],[882,883],[886,887],[893,894],[896,897],[910,918],[925,938],[942,955],[957,965],[967,978],[985,986],[988,989],[991,992],[994,995],[997,998],[1002,1003],[1008,1009],[1011,1012],[1021,1022],[1025,1026],[1027,1028],[1031,1032],[1035,1036],[1038,1039],[1042,1043],[1046,1052],[1056,1057],[1060,1061],[1065,1066],[1068,1069],[1074,1075],[1080,1081],[1085,1086],[1091,1102],[1110,1111],[1115,1116],[1119,1120],[1122,1123],[1126,1127],[1129,1130],[1132,1133],[1138,1139],[1143,1144],[1157,1162],[1168,1175],[1185,1190],[1196,1200],[1209,1210],[1217,1236],[1241,1242],[1245,1246],[1249,1250],[1254,1255],[1258,1259],[1262,1263],[1275,1279],[1288,1289],[1296,1297],[1305,1306],[1309,1310],[1313,1317]];
const snpBlue=[[212,213],[219,220],[229,230],[263,266],[627,634],[646,647],[656,660],[847,848],[849,850],[852,853],[854,855],[856,857],[859,860],[1265,1266]];
const snpRed=[[267,268],[379,380],[407,408],[508,509],[600,604],[774,775],[813,817],[861,862]];
const snpGreen=[[446,447],[456,457],[597,598],[736,737],[904,905],[1135,1136],[1147,1148],[1151,1152]];
const repeatBlocks=[[189,190],[191,192],[194,195],[218,225],[228,238],[241,242],[246,247],[248,258],[272,274],[277,280],[298,299],[306,337],[343,349],[352,354],[365,366],[369,370],[374,375],[394,404],[408,417],[419,440],[450,457],[463,476],[486,487],[489,490],[492,493],[513,519],[522,538],[547,560],[562,566],[569,576],[578,594],[608,615],[634,644],[648,666],[675,681],[685,686],[689,690],[693,694],[698,715],[720,721],[724,725],[733,743],[750,751],[753,754],[760,770],[776,809],[821,829],[832,844],[853,854],[878,898],[925,942],[946,978],[1002,1029],[1036,1037],[1046,1047],[1051,1052],[1061,1062],[1068,1069],[1072,1087],[1093,1094],[1098,1099],[1117,1128],[1146,1147],[1160,1166],[1183,1184],[1192,1193],[1200,1201],[1219,1220],[1226,1227],[1241,1254],[1269,1279],[1283,1320]];

const scaleBar=[473,1038];
const posTicks=[314,879];
const highlight=[754,760];
const leftLabels=['Scale','chr2:','UBXN4','9.3423 _','0 _','4 _','-4 _',...speciesNames,'Common SNPs(142)','RepeatMasker'];

// layout of the tracks on the y axis
const rowY=i=>Math.round(520+i*24.73);
const NUDGE=1.5; // canvas text sits a little high with middle baseline
const leftY=[25,53,102,155,238,263,329,...speciesNames.map((n,i)=>rowY(i)),1335,1385].map(v=>v+NUDGE);
const navy='#1c1c8a', green='#065a0e', purple='#6a3fb8';
const leftColors=leftLabels.map((t,i)=>{
  if(i===2) return navy;
  if(i===5) return '#1c1c70';
  if(i===6) return '#8b2323';
  if(i>=7&&i<16) return navy;
  if(i>=16&&i<39) return '#1f6b1f';
  return '#222';
});
const FONT="'Liberation Sans'";
const FONT_SIZE=18.4;
const texts=[
 ['50 kb',468,25,'right','#222'],['hg19',1051,25,'left','#222'],
 ['136,550,000',312,53,'right','#222'],['136,600,000',876,53,'right','#222'],
 ['RefSeq Genes',755,78,'center',navy],['LOC100507600',621,103,'right',navy],['MCM6',840,102,'right',navy],['LCT',254,128,'right',navy],
 ['29 mammals Constraint Elements pi lods score',754,155,'center','#222'],
 ['Placental Mammal Basewise Conservation by PhyloP',754,263,'center','#1c1c70'],
 ['Placental Mammal Conserved Elements',755,354,'center',purple],
 ['Multiz Alignments of 46 Vertebrates',755,496,'center',navy],
 ['Simple Nucleotide Polymorphisms (dbSNP 142) Found in >= 1% of Samples',755,1311,'center','#222'],
 ['Repeating Elements by RepeatMasker',755,1361,'center','#222'],
 ['29mammalsConstrain',9,195,'left','#222'],['Mammal Cons',9,295,'left','#1c1c70']
];

function chevron(w,h,lw,color){
  const c=document.createElement('canvas');c.width=w;c.height=h;
  const g=c.getContext('2d');g.strokeStyle=color;g.lineWidth=lw;
  g.beginPath();g.moveTo(w-1,1);g.lineTo(1.5,h/2);g.lineTo(w-1,h-1);g.stroke();
  return c;
}
// block outline from a base level; digit strings give jagged tops, depth widens the notches
function blockPts(blocks,base,unit,dflt,depth){
  const pts=[];
  const d=depth||1;
  for(const b of blocks){
    const [s,e,v]=b;
    pts.push({x:s,y:base});
    if(typeof v==='string'&&v.length>1){
      const tops=[...v].map(c=>c==='a'?10:+c);
      const last=tops.length-1;
      pts.push({x:s,y:base-unit*(10-(10-tops[0])*d)});
      tops.forEach((t,i)=>{
        pts.push({x:s+(e-s)*(i+.5)/tops.length,y:base-unit*(10-(10-t)*d)});
      });
      pts.push({x:e,y:base-unit*(10-(10-tops[last])*d)});
    }else{
      const t=typeof v==='string'?(v==='a'?10:+v):(v===undefined?dflt:v);
      pts.push({x:s,y:base-unit*t},{x:e,y:base-unit*t});
    }
    pts.push({x:e,y:base});
  }
  return pts;
}
function filled(pts,base,color,order){
  return {type:'line',data:pts,fill:{value:base},backgroundColor:color,borderWidth:0,pointRadius:0,tension:0,order:order};
}
function stroked(pts,color,width,order){
  return {type:'line',data:pts,fill:false,borderColor:color,borderWidth:width,pointRadius:0,tension:0,spanGaps:false,order:order};
}
function spanPts(spans,y){
  const pts=[];
  for(const [s,e] of spans){pts.push({x:s,y:y},{x:e,y:y},{x:e,y:null});}
  return pts;
}
function bar(spans,top,bottom,color,order){
  return filled(blockPts(spans,bottom,bottom-top,1),bottom,color,order);
}
function chevrons(xs,y,img,order){
  return {type:'line',data:xs.map(x=>({x:x,y:y})),showLine:false,pointStyle:img,pointRadius:1,order:order};
}

const datasets=[];
datasets.push(filled([{x:highlight[0],y:1397},{x:highlight[0],y:9},{x:highlight[1],y:9},{x:highlight[1],y:1397}],1397,'#aaffff',100));
// ruler
datasets.push(stroked([{x:scaleBar[0],y:24.5},{x:scaleBar[1],y:24.5}],'#333',1.3,5));
scaleBar.forEach(x=>datasets.push(stroked([{x:x+.5,y:12},{x:x+.5,y:37}],'#333',1.3,5)));
posTicks.forEach(x=>datasets.push(stroked([{x:x-.5,y:39},{x:x-.5,y:63}],'#222',1.3,5)));
// genes
const lineBlue='#3a3a9c', chevColor='#7676c8';
const lctMid=128, topMid=102;
datasets.push(stroked([{x:261,y:lctMid},{x:820,y:lctMid}],lineBlue,1.3,6));
datasets.push(stroked([{x:847,y:topMid},{x:1263,y:topMid}],lineBlue,1.3,6));
datasets.push(stroked([{x:628,y:topMid},{x:659,y:topMid}],lineBlue,1.3,6));
datasets.push(chevrons(lctChevrons,lctMid,chevron(7,11,1.2,chevColor),7));
datasets.push(chevrons(mcm6Chevrons,topMid,chevron(7,11,1.2,chevColor),7));
datasets.push(chevrons(ubxn4Chevrons.slice(0,1),topMid,chevron(13,24,1.2,lineBlue),7));
datasets.push(chevrons(ubxn4Chevrons.slice(1),topMid,chevron(13,24,5,navy),7));
datasets.push(bar(lctExons,116,140,'#10107a',4));
datasets.push(bar(lctUtr,120,136,'#10107a',4));
datasets.push(bar(mcm6Exons,90,114,'#10107a',4));
datasets.push(bar(mcm6Utr,95,108,'#10107a',4));
datasets.push(bar(locUtr,95,108,'#10107a',4));
datasets.push(bar(ubxn4Utr,95,108,'#10107a',4));
datasets.push(bar(ubxn4Exons,90,114,'#3a3a9c',4));
// constraint and phyloP
datasets.push(filled(blockPts(constraintScores,249,9,0),249,'#000',4));
datasets.push(filled(blockPts(phyloUp,306,8.1,0),306,'#1b1b68',4));
datasets.push(filled(blockPts(phyloDown,306,-8.1,0),306,'#7a1f1f',4));
// conserved elements
conservedRows.forEach((xs,i)=>{
  const c=372+i*13;
  datasets.push(bar(xs.map(x=>[x,x+1.6]),c-6,c+6,purple,4));
});
// multiz rows, primates above Tarsier stay nearly flat
speciesBlocks.forEach((blocks,i)=>{
  const c=rowY(i), base=c+11;
  datasets.push(stroked(spanPts(gapSpans[i],c-5.5),'#a0a0a0',1.5,30));
  datasets.push(stroked(spanPts(gapSpans[i],c+3.5),'#a0a0a0',1.5,30));
  datasets.push(bar(paleSpans[i],c-11,base,'#f1f0b8',20));
  datasets.push(filled(blockPts(blocks,base,2.2,10,i<6?1:1.8),base,green,10));
});
// snps and repeats
datasets.push(bar(snpBlack,1322,1347,'#000',4));
datasets.push(bar(snpBlue,1322,1347,'#1212e0',3));
datasets.push(bar(snpRed,1322,1347,'#e01212',3));
datasets.push(bar(snpGreen,1322,1347,'#12b012',3));
datasets.push(bar(repeatBlocks,1372,1397,'#000',4));

const textPlugin={id:'trackText',afterDraw(chart){
  const g=chart.ctx,sx=chart.scales.x,sy=chart.scales.y;
  g.save();
  g.font=FONT_SIZE+'px '+FONT;g.textBaseline='middle';
  for(const [t,x,y,align,color] of texts){
    g.textAlign=align;g.fillStyle=color;
    g.fillText(t,sx.getPixelForValue(x),sy.getPixelForValue(y+NUDGE));
  }
  g.restore();
}};
// the layout leaves a margin under the last axis label, stretch the plot back to the canvas edge
const fullHeight={id:'fullHeight',afterLayout(chart){
  const a=chart.chartArea,y=chart.scales.y;
  a.bottom=1397;a.height=a.bottom-a.top;
  y.bottom=1397;y.height=y.bottom-y.top;
  y.configure();
  y._labelItems=null;
}};

new Chart(document.getElementById('browser'),{
  type:'line',
  data:{datasets:datasets},
  plugins:[fullHeight,textPlugin],
  options:{
    responsive:false,animation:false,parsing:false,normalized:false,
    layout:{padding:{top:9,right:10,left:0,bottom:0}},
    plugins:{legend:{display:false},tooltip:{enabled:false},title:{display:false}},
    events:[],
    scales:{
      x:{type:'linear',position:'top',min:187,max:1320,
        afterBuildTicks(s){const t=[];for(let k=0;k<=71;k++)t.push({value:204.5+k*15.59});s.ticks=t;},
        afterFit(s){s.height=0;s.paddingLeft=0;s.paddingRight=0;},
        ticks:{display:false,autoSkip:false},
        grid:{color:'#dfdfff',lineWidth:1.5,drawTicks:false},
        border:{display:false}},
      y:{type:'linear',reverse:true,min:9,max:1397,
        afterBuildTicks(s){s.ticks=leftY.map(v=>({value:v}));},
        afterFit(s){s.width=187;s.paddingTop=0;s.paddingBottom=0;},
        ticks:{autoSkip:false,padding:3,font:{family:FONT,size:FONT_SIZE},
          callback(v,i){return leftLabels[i];},
          color(ctx){return leftColors[ctx.index];}},
        grid:{display:false,drawTicks:false},
        border:{display:true,color:'#ffb4b4',width:1.5}}
    }
  }
});
</script>
</body>
</html>
